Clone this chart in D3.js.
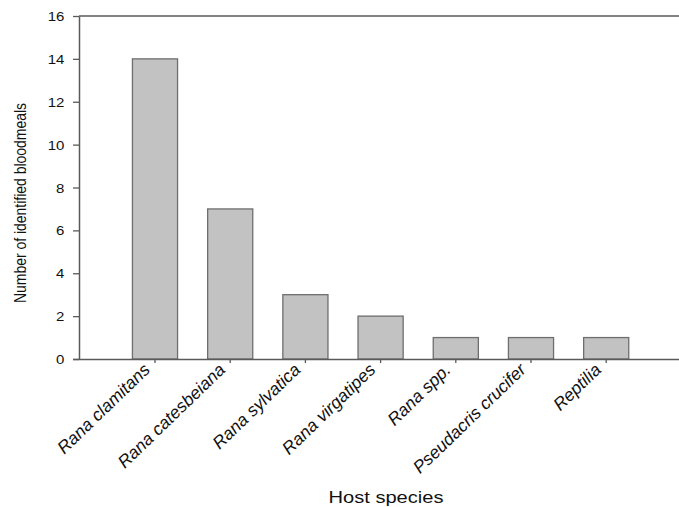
<!DOCTYPE html>
<html>
<head>
<meta charset="utf-8">
<script src="https://cdn.jsdelivr.net/npm/d3@7"></script>
<style>
  html, body { margin: 0; padding: 0; background: #fff; }
  svg { display: block; }
  text { font-family: "Liberation Sans", Arial, Helvetica, sans-serif; fill: #111; }
</style>
</head>
<body>
<svg id="chart" width="679" height="507"></svg>
<script>
const categories = ["Rana clamitans", "Rana catesbeiana", "Rana sylvatica", "Rana virgatipes", "Rana spp.", "Pseudacris crucifer", "Reptilia"];
const values = [14, 7, 3, 2, 1, 1, 1];
const yTicks = [0, 2, 4, 6, 8, 10, 12, 14, 16];
const xTitle = "Host species";
const yTitle = "Number of identified bloodmeals";

const svg = d3.select("#chart");
const mLeft = 79, mRight = 679, mTop = 16, mBottom = 359;
const axisColor = "#5a5a5a";

const x = d3.scaleBand().domain(categories).range([117.4, 643.8]).paddingInner(0.4).paddingOuter(0.2);
const y = d3.scaleLinear().domain([0, 16]).range([mBottom, mTop]);

// bars
svg.append("g").selectAll("rect").data(values).join("rect")
  .attr("x", (d, i) => x(categories[i]))
  .attr("y", d => y(d))
  .attr("width", x.bandwidth())
  .attr("height", d => y(0) - y(d))
  .attr("fill", "#c2c2c2")
  .attr("stroke", "#6e6e6e")
  .attr("stroke-width", 1.3);

// top frame line
svg.append("line").attr("x1", mLeft).attr("x2", mRight).attr("y1", mTop).attr("y2", mTop)
  .attr("stroke", axisColor).attr("stroke-width", 1.5);

// y axis
const yAxis = svg.append("g").attr("transform", `translate(${mLeft},0)`)
  .call(d3.axisLeft(y).tickValues(yTicks).tickSize(6).tickPadding(8).tickSizeOuter(0));
yAxis.select(".domain").attr("stroke", axisColor).attr("stroke-width", 1.5);
yAxis.selectAll(".tick line").attr("stroke", axisColor).attr("stroke-width", 1.3);
yAxis.selectAll(".tick text")
  .attr("font-size", 12.5)
  .attr("font-family", "Liberation Sans, Arial, sans-serif")
  .attr("fill", "#111")
  .attr("transform", "scale(1.2,1)")
  .attr("x", -14 / 1.2 - 0.5)
  .attr("dy", "0.36em");

// x axis
const xAxis = svg.append("g").attr("transform", `translate(0,${mBottom})`)
  .call(d3.axisBottom(x).tickSize(4).tickSizeOuter(0));
xAxis.select(".domain").attr("d", `M${mLeft - 6},0.5H${mRight}`).attr("stroke", axisColor).attr("stroke-width", 1.5);
xAxis.selectAll(".tick line").attr("stroke", axisColor).attr("stroke-width", 1.3);
xAxis.selectAll(".tick text")
  .attr("font-size", 17.5)
  .attr("font-style", "italic")
  .attr("font-family", "Liberation Sans, Arial, sans-serif")
  .attr("fill", "#111")
  .attr("text-anchor", "end")
  .attr("x", 0).attr("y", 0).attr("dy", 0)
  .attr("transform", "translate(-4,12) rotate(-44)");

// axis titles
svg.append("text")
  .attr("x", 386).attr("y", 503)
  .attr("text-anchor", "middle")
  .attr("font-size", 16.5)
  .attr("textLength", 115)
  .attr("lengthAdjust", "spacingAndGlyphs")
  .text(xTitle);

svg.append("text")
  .attr("transform", "translate(25.5,203) rotate(-90)")
  .attr("text-anchor", "middle")
  .attr("font-size", 16.5)
  .attr("textLength", 200)
  .attr("lengthAdjust", "spacingAndGlyphs")
  .text(yTitle);
</script>
</body>
</html>
